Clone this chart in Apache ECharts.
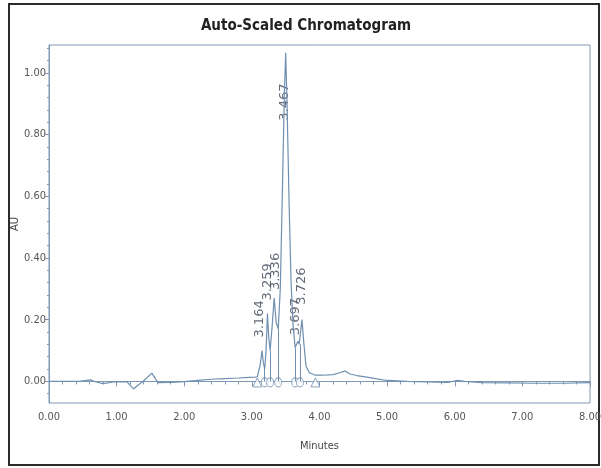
<!DOCTYPE html>
<html>
<head>
<meta charset="utf-8">
<script src="https://cdn.jsdelivr.net/npm/echarts@6/dist/echarts.min.js"></script>
<style>
html,body{margin:0;padding:0;background:#fff;}
#chart{width:601px;height:468px;}
</style>
</head>
<body>
<div id="chart"></div>
<script>
// ---- data ----
const times = [0, 0.45, 0.61, 0.70, 0.80, 0.95, 1.15, 1.25, 1.40, 1.52, 1.61, 1.80, 2.00, 2.20, 2.40, 2.60, 2.80, 2.95, 3.05, 3.08, 3.12, 3.15, 3.17, 3.19, 3.21, 3.23, 3.25, 3.27, 3.30, 3.33, 3.36, 3.39, 3.42, 3.45, 3.48, 3.50, 3.52, 3.55, 3.58, 3.61, 3.64, 3.66, 3.68, 3.70, 3.71, 3.74, 3.77, 3.80, 3.85, 3.94, 4.05, 4.20, 4.30, 4.38, 4.45, 4.55, 4.70, 4.85, 5.00, 5.30, 5.60, 5.90, 6.03, 6.15, 6.40, 6.80, 7.20, 7.60, 8.00];
const absorbance = [0.000, 0.000, 0.005, -0.002, -0.007, -0.002, -0.001, -0.024, 0.002, 0.027, -0.004, -0.003, -0.001, 0.003, 0.007, 0.009, 0.011, 0.013, 0.014, 0.015, 0.05, 0.10, 0.06, 0.04, 0.10, 0.22, 0.14, 0.10, 0.18, 0.27, 0.19, 0.17, 0.30, 0.60, 0.93, 1.065, 0.90, 0.58, 0.32, 0.18, 0.11, 0.11, 0.13, 0.12, 0.12, 0.20, 0.12, 0.05, 0.028, 0.020, 0.020, 0.022, 0.028, 0.034, 0.024, 0.019, 0.014, 0.008, 0.003, 0.000, -0.002, -0.003, 0.003, 0.000, -0.004, -0.005, -0.006, -0.006, -0.004];

const peakTimes = [3.15, 3.23, 3.33, 3.50, 3.68, 3.74];
const peakHeights = [0.10, 0.22, 0.27, 1.065, 0.13, 0.20];
const peakLabels = ['3.164', '3.259', '3.336', '3.467', '3.697', '3.726'];

const startEndTimes = [3.08, 3.94];
const valleyTimes = [3.19, 3.27, 3.39, 3.64, 3.71];

const xTickValues = [0, 1, 2, 3, 4, 5, 6, 7, 8];
const yTickValues = [0, 0.2, 0.4, 0.6, 0.8, 1.0];

const yMin = -0.07, yMax = 1.09;

// ---- helpers ----
function traceAt(t) {
  for (let i = 1; i < times.length; i++) {
    if (t <= times[i]) {
      const f = (t - times[i - 1]) / (times[i] - times[i - 1]);
      return absorbance[i - 1] + f * (absorbance[i] - absorbance[i - 1]);
    }
  }
  return absorbance[absorbance.length - 1];
}
const minorY = [];
for (let k = Math.ceil(yMin / 0.04); k * 0.04 <= yMax + 1e-9; k++) {
  const v = +(k * 0.04).toFixed(4);
  if (Math.abs(v / 0.2 - Math.round(v / 0.2)) > 1e-6) minorY.push(v);
}

const lineColor = '#6f8fb0';
const axisColor = '#7f98b3';
const font = '"Liberation Sans Narrow", "DejaVu Sans Condensed", "Liberation Sans", sans-serif';

// label placement style (pixel shifts relative to each apex)
const labelShift = [[-2, -13], [0, -13], [1, -8], [-1, 68], [-2, -6], [0, -15]];

const chart = echarts.init(document.getElementById('chart'));
const option = {
  animation: false,
  backgroundColor: '#ffffff',
  grid: { left: 49, right: 11, top: 45, bottom: 65, containLabel: false, outerBoundsMode: 'none', show: true, borderColor: axisColor, borderWidth: 1 },
  graphic: [
    { type: 'rect', shape: { x: 9, y: 4, width: 590, height: 461 }, style: { fill: 'none', stroke: '#2b2b2b', lineWidth: 2 }, silent: true },
    { type: 'text', x: 306, y: 26, style: { text: 'Auto-Scaled Chromatogram', textAlign: 'center', textVerticalAlign: 'middle', fontFamily: font, fontWeight: 'bold', fontSize: 15, fill: '#222' } },
    { type: 'text', x: 15, y: 224, rotation: Math.PI / 2, style: { text: 'AU', textAlign: 'center', textVerticalAlign: 'middle', fontFamily: font, fontSize: 11, fill: '#444' } }
  ],
  xAxis: {
    type: 'value', min: 0, max: 8, interval: 1,
    name: 'Minutes', nameLocation: 'middle', nameGap: 38,
    nameTextStyle: { fontFamily: font, fontSize: 11, color: '#444' },
    axisLine: { show: true, lineStyle: { color: axisColor } },
    axisTick: { show: true, length: 5, lineStyle: { color: axisColor } },
    minorTick: { show: true, splitNumber: 5, length: 3, lineStyle: { color: axisColor } },
    axisLabel: { margin: 9, fontFamily: font, fontSize: 11, color: '#555', formatter: v => v.toFixed(2) },
    splitLine: { show: false }
  },
  yAxis: [
    {
      type: 'value', min: yMin, max: yMax,
      axisLine: { show: true, lineStyle: { color: axisColor } },
      axisTick: { show: true, length: 4, customValues: yTickValues, lineStyle: { color: axisColor } },
      axisLabel: { margin: 3, fontFamily: font, fontSize: 11, color: '#555', customValues: yTickValues, formatter: v => v.toFixed(2) },
      splitLine: { show: false }
    },
    {
      type: 'value', min: yMin, max: yMax, position: 'left',
      axisLine: { show: false },
      axisTick: { show: true, length: 2, customValues: minorY, lineStyle: { color: axisColor } },
      axisLabel: { show: false },
      splitLine: { show: false }
    }
  ],
  series: [
    {
      type: 'line', yAxisIndex: 0, symbol: 'none', silent: true,
      data: times.map((t, i) => [t, absorbance[i]]),
      lineStyle: { color: lineColor, width: 1.2 },
      markLine: {
        silent: true, symbol: 'none', label: { show: false },
        lineStyle: { color: lineColor, width: 1, type: 'solid' },
        data: valleyTimes.map(t => [{ coord: [t, 0] }, { coord: [t, traceAt(t)] }])
      }
    },
    {
      type: 'scatter', yAxisIndex: 0, symbol: 'triangle', symbolSize: 9, symbolOffset: [0, 1],
      data: startEndTimes.map(t => [t, 0]),
      itemStyle: { color: '#ffffff', borderColor: lineColor, borderWidth: 1 }
    },
    {
      type: 'scatter', yAxisIndex: 0, symbol: 'circle', symbolSize: [7, 9], symbolOffset: [0, 1],
      data: valleyTimes.map(t => [t, 0]),
      itemStyle: { color: '#ffffff', borderColor: lineColor, borderWidth: 1 }
    },
    {
      type: 'scatter', yAxisIndex: 0, symbolSize: 0, silent: true,
      itemStyle: { color: 'rgba(0,0,0,0)' },
      data: peakTimes.map((t, i) => ({
        value: [t, peakHeights[i]],
        label: {
          show: true, formatter: peakLabels[i], rotate: 90,
          position: labelShift[i], align: 'left', verticalAlign: 'middle',
          fontFamily: '"DejaVu Sans", sans-serif', fontSize: 13, color: '#3d4656'
        }
      }))
    }
  ]
};
chart.setOption(option);
</script>
</body>
</html>
